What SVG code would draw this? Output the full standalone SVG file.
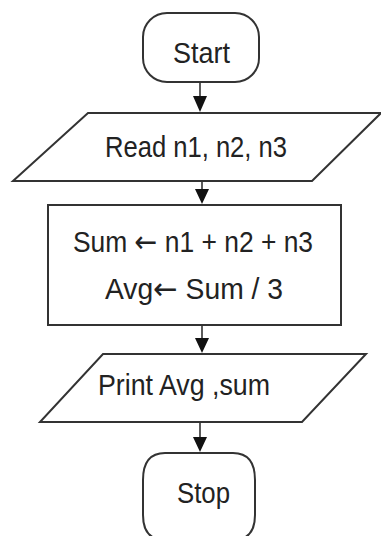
<svg xmlns="http://www.w3.org/2000/svg" width="381" height="536" viewBox="0 0 381 536">
<style>
.s{fill:#fff;stroke:#333;stroke-width:2}
.t{font-family:"Liberation Sans",Arial,sans-serif;font-size:29px;fill:#222}
.a{font-family:"DejaVu Sans",sans-serif;font-size:30px}
.c{stroke:#333;stroke-width:1.6;fill:none}
.h{fill:#111}
</style>
<rect width="381" height="536" fill="#fff"/>
<g id="start">
<rect class="s" x="143" y="13" width="116" height="69" rx="24" ry="24"/>
<text class="t" x="173" y="63" textLength="57" lengthAdjust="spacingAndGlyphs">Start</text>
</g>
<g id="read">
<polygon class="s" points="88,113 381,113 312,181 13,181"/>
<text class="t" x="105" y="157" textLength="182" lengthAdjust="spacingAndGlyphs">Read n1, n2, n3</text>
</g>
<g id="process">
<rect class="s" x="48" y="205" width="293" height="120"/>
<text class="t" x="73" y="252" textLength="240" lengthAdjust="spacingAndGlyphs">Sum <tspan class="a">←</tspan> n1 + n2 + n3</text>
<text class="t" x="105" y="299" textLength="178" lengthAdjust="spacingAndGlyphs">Avg<tspan class="a">←</tspan> Sum / 3</text>
</g>
<g id="print">
<polygon class="s" points="103,354 366,354 302,422 40,422"/>
<text class="t" x="98" y="395" textLength="172" lengthAdjust="spacingAndGlyphs">Print Avg ,sum</text>
</g>
<g id="stop">
<path class="s" d="M165,453 L233,453 Q255,453 255,480 L255,515 Q255,540 233,540 L165,540 Q143,540 143,515 L143,480 Q143,453 165,453 Z"/>
<text class="t" x="177" y="503" textLength="53" lengthAdjust="spacingAndGlyphs">Stop</text>
</g>
<g id="connectors">
<line class="c" x1="200" y1="82" x2="200" y2="96"/>
<polygon class="h" points="193,96 207,96 200,112"/>
<line class="c" x1="202" y1="181" x2="202" y2="189"/>
<polygon class="h" points="195,189 209,189 202,204"/>
<line class="c" x1="202" y1="325" x2="202" y2="338"/>
<polygon class="h" points="195,338 209,338 202,353"/>
<line class="c" x1="200" y1="422" x2="200" y2="437"/>
<polygon class="h" points="193,437 207,437 200,452"/>
</g>
</svg>
